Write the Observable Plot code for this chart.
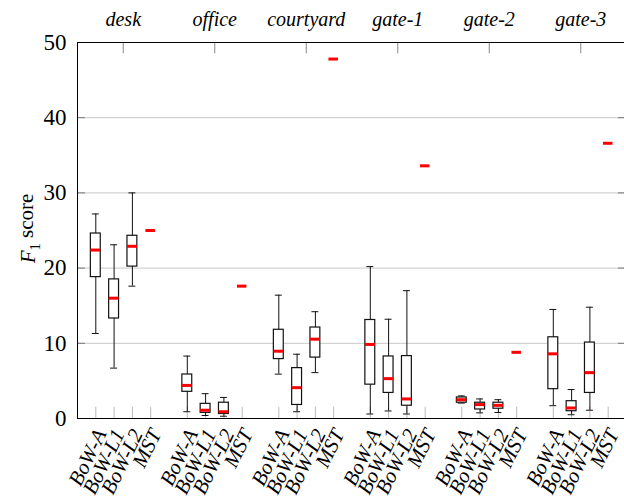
<!DOCTYPE html>
<html><head><meta charset="utf-8">
<script src="https://cdn.jsdelivr.net/npm/d3@7"></script>
<script src="https://cdn.jsdelivr.net/npm/@observablehq/plot@0.6"></script>
<style>body{margin:0;overflow:hidden;background:#fff}</style>
</head><body><div id="chart"></div>
<script>
// ---- data ----
const groups = ["desk", "office", "courtyard", "gate-1", "gate-2", "gate-3"];
const methods = ["BoW-A", "BoW-L1", "BoW-L2", "MST"];
// BoW box statistics, ordered group by group: [A, L1, L2] per group
const bowLow  = [11.3, 6.7, 17.6,   0.9, 0.4, 0.3,   5.9, 0.9, 6.1,   0.6, 1.0, 0.6,   2.05, 0.75, 0.8,   1.7, 0.5, 1.1];
const bowQ1   = [18.8, 13.3, 20.2,  3.55, 0.75, 0.6, 7.9, 1.8, 8.1,   4.5, 3.4, 1.7,   2.1, 1.2, 1.3,     3.9, 0.97, 3.4];
const bowMed  = [22.4, 16.0, 22.9,  4.4, 1.1, 0.9,   8.95, 4.1, 10.55, 9.85, 5.3, 2.6, 2.5, 1.85, 1.75,   8.6, 1.4, 6.1];
const bowQ3   = [24.6, 18.5, 24.3,  5.85, 1.95, 2.1, 11.8, 6.7, 12.1, 13.1, 8.25, 8.3, 2.8, 2.1, 2.1,    10.8, 2.3, 10.1];
const bowHigh = [27.2, 23.1, 30.0,  8.3, 3.3, 2.8,   16.4, 8.55, 14.2, 20.2, 13.2, 17.0, 3.0, 2.6, 2.5,   14.5, 3.85, 14.8];
const mstValue = [25.0, 17.6, 47.8, 33.6, 8.8, 36.6];
const yTicks = [0, 10, 20, 30, 40, 50];
const gridTicks = [10, 20, 30, 40];

// ---- derived tables ----
const boxes = [];
groups.forEach((g, gi) => {
  for (let mi = 0; mi < 3; mi++) {
    const k = gi * 3 + mi;
    boxes.push({group: g, method: methods[mi], slot: gi * 5 + mi,
      low: bowLow[k], q1: bowQ1[k], med: bowMed[k], q3: bowQ3[k], high: bowHigh[k]});
  }
});
const mst = groups.map((g, gi) => ({group: g, method: "MST", slot: gi * 5 + 3, value: mstValue[gi]}));
const slots = [];
groups.forEach((g, gi) => methods.forEach((m, mi) => slots.push({group: g, method: m, slot: gi * 5 + mi})));
const groupCenters = groups.map((g, gi) => ({group: g, center: gi * 5 + 1.5}));

const hw = 0.27, cap = 0.19, mh = 0.26, tickLen = 0.44;
const serif = "'Times New Roman', Times, 'Liberation Serif', 'DejaVu Serif', serif";

const chart = Plot.plot({
  width: 624, height: 504,
  marginLeft: 77, marginRight: 0, marginTop: 42, marginBottom: 86,
  style: {fontFamily: serif, fontSize: "19px", background: "white", overflow: "visible", color: "black"},
  x: {domain: [-1, 29], range: [77, 626], axis: null},
  y: {domain: [0, 50], axis: null},
  marks: [
    Plot.ruleY(gridTicks, {stroke: "#c8c8c8", strokeWidth: 1}),
    Plot.ruleY(gridTicks, {x1: -1, x2: -1 + tickLen, stroke: "#777", strokeWidth: 1}),
    Plot.ruleY(gridTicks, {x1: 29 - tickLen, x2: 29, stroke: "#777", strokeWidth: 1}),
    Plot.ruleX(slots, {x: "slot", y1: 0, y2: 1.5, stroke: "#bbb", strokeWidth: 1}),
    Plot.ruleX(groupCenters, {x: "center", y1: 50, y2: 48.5, stroke: "#888", strokeWidth: 1}),
    Plot.frame({stroke: "black", strokeWidth: 1}),
    Plot.axisY(yTicks, {anchor: "left", tickSize: 0, tickPadding: 11, fontSize: 23, fontFamily: serif}),
    Plot.ruleX(boxes, {x: "slot", y1: "low", y2: "high", stroke: "#111", strokeWidth: 1}),
    Plot.ruleY(boxes, {y: "low", x1: d => d.slot - cap, x2: d => d.slot + cap, stroke: "#111", strokeWidth: 1}),
    Plot.ruleY(boxes, {y: "high", x1: d => d.slot - cap, x2: d => d.slot + cap, stroke: "#111", strokeWidth: 1}),
    Plot.rect(boxes, {x1: d => d.slot - hw, x2: d => d.slot + hw, y1: "q1", y2: "q3", fill: "white", stroke: "#111", strokeWidth: 1.2}),
    Plot.ruleY(boxes, {y: "med", x1: d => d.slot - hw, x2: d => d.slot + hw, stroke: "red", strokeWidth: 3}),
    Plot.ruleY(mst, {y: "value", x1: d => d.slot - mh, x2: d => d.slot + mh, stroke: "red", strokeWidth: 3}),
    Plot.text(slots, {x: "slot", y: 0, text: "method", rotate: -64, textAnchor: "end", dx: 5, dy: 12, fontStyle: "italic", fontSize: 21, fontFamily: serif}),
    Plot.text(groupCenters, {x: "center", frameAnchor: "top", dy: -31, text: "group", fontStyle: "italic", fontSize: 20, fontFamily: serif}),
    Plot.text(["F1 score"], {frameAnchor: "left", textAnchor: "middle", dx: -49, dy: -2, rotate: -90, text: d => d, fontSize: 21, fontFamily: serif})
  ]
});
document.getElementById("chart").appendChild(chart);
// subscript / italic styling of the y label
d3.select(chart).selectAll("text").filter(function() { return this.textContent === "F1 score"; })
  .each(function() {
    const t = d3.select(this);
    t.text(null);
    t.append("tspan").attr("font-style", "italic").text("F");
    t.append("tspan").attr("font-size", "70%").attr("dy", "0.3em").text("1");
    t.append("tspan").attr("dy", "-0.3em").text(" score");
  });
</script>
</body></html>
